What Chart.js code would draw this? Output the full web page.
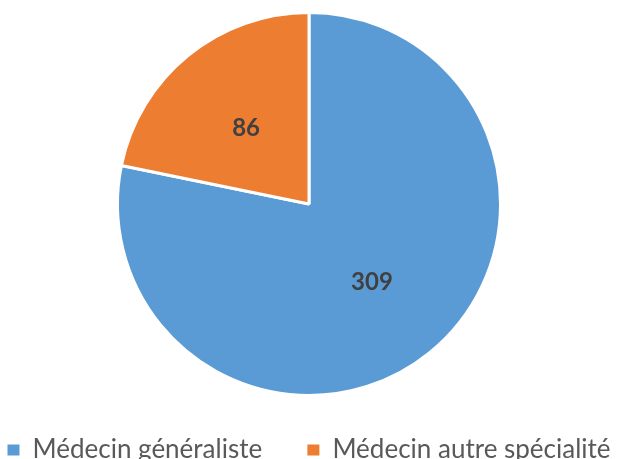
<!DOCTYPE html>
<html>
<head>
  <meta charset="utf-8">
  <script src="https://cdn.jsdelivr.net/npm/chart.js"></script>
  <style>
    html, body { margin: 0; padding: 0; background: #fff; overflow: hidden; }
    #contenedor { width: 618px; height: 473px; }
  </style>
</head>
<body>
  <div id="contenedor"><canvas id="myChart"></canvas></div>
  <script>
    var categories = ['Médecin généraliste', 'Médecin autre spécialité'];
    var valeurs = [309, 86];
    var couleurs = ['#5B9BD5', '#ED7D31'];

    // étiquettes au milieu de chaque part
    var etiquettes = {
      id: 'etiquettes',
      afterDatasetsDraw: function(chart) {
        var ctx = chart.ctx;
        var meta = chart.getDatasetMeta(0);
        ctx.save();
        ctx.font = 'bold 24px Lato, sans-serif';
        ctx.fillStyle = '#404040';
        ctx.textAlign = 'center';
        ctx.textBaseline = 'middle';
        meta.data.forEach(function(arc, i) {
          var a = (arc.startAngle + arc.endAngle) / 2;
          var r = arc.outerRadius * 0.52;
          ctx.fillText(valeurs[i], arc.x + Math.cos(a) * r, arc.y + Math.sin(a) * r + 1);
        });
        ctx.restore();
      }
    };

    var ctx = document.getElementById('myChart').getContext('2d');
    new Chart(ctx, {
      type: 'pie',
      data: {
        labels: categories,
        datasets: [{
          data: valeurs,
          backgroundColor: couleurs,
          borderColor: '#ffffff',
          borderWidth: 3
        }]
      },
      options: {
        responsive: true,
        maintainAspectRatio: false,
        animation: false,
        layout: { padding: { top: 11, bottom: 0 } },
        plugins: {
          tooltip: { enabled: false },
          legend: {
            position: 'bottom',
            title: { display: true, text: '', font: { size: 10, lineHeight: 1 }, padding: { top: 0, bottom: 27 } },
            labels: {
              boxWidth: 12,
              boxHeight: 11,
              padding: 3,
              color: '#595959',
              font: { family: 'Lato, sans-serif', size: 26 },
              // espace plus large entre les deux entrées
              generateLabels: function(chart) {
                var items = Chart.overrides.pie.plugins.legend.labels.generateLabels(chart);
                items[0].text = items[0].text + '\u2003\u2003\u2009';
                items.forEach(function(it) { it.lineWidth = 0; });
                return items;
              }
            }
          }
        }
      },
      plugins: [etiquettes]
    });
  </script>
</body>
</html>
